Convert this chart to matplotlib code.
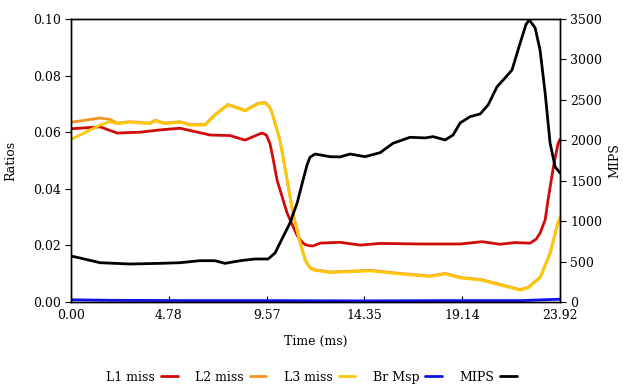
import matplotlib.pyplot as plt

plt.rcParams['font.family'] = ['DejaVu Serif']

# time (ms) and values
t_l1 = [0.0, 1.42, 2.25, 3.38, 4.35, 5.33, 6.80, 7.78, 8.51, 9.10, 9.34, 9.55, 9.73, 9.90,
        10.08, 10.57, 11.06, 11.30, 11.45, 11.65, 11.84, 12.18, 13.16, 14.14, 15.12, 17.07,
        19.03, 20.11, 20.99, 21.72, 22.45, 22.75, 22.94, 23.19, 23.33, 23.60, 23.82, 23.92]
l1_miss = [0.0612, 0.0619, 0.0597, 0.0600, 0.0608, 0.0614, 0.0590, 0.0588, 0.0572, 0.0590,
           0.0597, 0.0590, 0.0560, 0.0500, 0.0430, 0.0314, 0.0235, 0.0212, 0.0203, 0.0199,
           0.0198, 0.0208, 0.0211, 0.0201, 0.0207, 0.0205, 0.0205, 0.0213, 0.0204, 0.0210,
           0.0208, 0.0222, 0.0243, 0.0290, 0.0360, 0.0480, 0.0560, 0.0575]

t_l2 = [0.0, 1.42, 1.91, 2.25, 2.89, 3.86, 4.11, 4.60, 5.33, 5.82, 6.56, 7.04, 7.68, 8.51,
        9.15, 9.49, 9.70, 9.83, 10.22, 10.57, 10.86, 11.20, 11.45, 11.65, 11.84, 12.67,
        14.63, 16.09, 17.56, 18.30, 19.03, 20.01, 20.99, 21.97, 22.36, 22.94, 23.43, 23.82,
        23.92]
l2_miss = [0.0635, 0.0650, 0.0645, 0.0632, 0.0637, 0.0632, 0.0642, 0.0632, 0.0637, 0.0627,
           0.0627, 0.0662, 0.0698, 0.0677, 0.0702, 0.0705, 0.0690, 0.0670, 0.0572, 0.0432,
           0.0312, 0.0212, 0.0150, 0.0125, 0.0115, 0.0106, 0.0112, 0.0101, 0.0092, 0.0101,
           0.0087, 0.0080, 0.0062, 0.0044, 0.0052, 0.0087, 0.0172, 0.0282, 0.0292]

t_l3 = [0.0, 0.5, 1.0, 1.42, 1.91, 2.25, 2.89, 3.86, 4.11, 4.60, 5.33, 5.82, 6.56, 7.04,
        7.68, 8.51, 9.15, 9.49, 9.70, 9.83, 10.22, 10.57, 10.86, 11.20, 11.45, 11.65,
        11.84, 12.67, 14.63, 16.09, 17.56, 18.30, 19.03, 20.01, 20.99, 21.97, 22.36,
        22.94, 23.43, 23.82, 23.92]
l3_miss = [0.0575, 0.0592, 0.0610, 0.0625, 0.0637, 0.0630, 0.0635, 0.0630, 0.0640, 0.0630,
           0.0635, 0.0625, 0.0625, 0.0660, 0.0696, 0.0675, 0.0700, 0.0703, 0.0688, 0.0668,
           0.0570, 0.0430, 0.0310, 0.0210, 0.0148, 0.0123, 0.0113, 0.0104, 0.0110, 0.0099,
           0.0090, 0.0099, 0.0085, 0.0078, 0.0060, 0.0042, 0.0050, 0.0085, 0.0170, 0.0280,
           0.0300]

t_br = [0.0, 2.0, 6.0, 10.0, 14.0, 18.0, 22.0, 23.92]
br_msp = [0.0008, 0.0006, 0.0005, 0.0005, 0.0004, 0.0005, 0.0005, 0.0010]

t_mips = [0.0, 0.44, 1.42, 2.89, 4.35, 5.33, 6.31, 7.04, 7.53, 8.27, 9.00, 9.64, 9.98,
          10.22, 10.71, 11.06, 11.35, 11.55, 11.69, 11.94, 12.67, 13.16, 13.65, 14.38,
          15.12, 15.75, 16.58, 17.32, 17.71, 18.30, 18.69, 19.03, 19.52, 20.01, 20.40,
          20.84, 21.23, 21.57, 21.97, 22.25, 22.41, 22.70, 22.94, 23.19, 23.43, 23.68,
          23.92]
mips = [569, 544, 486, 470, 478, 486, 511, 511, 478, 511, 532, 532, 606, 730, 977, 1225,
        1510, 1700, 1790, 1830, 1797, 1794, 1830, 1797, 1847, 1963, 2037, 2029, 2045, 2004,
        2066, 2214, 2292, 2325, 2437, 2663, 2771, 2870, 3204, 3430, 3490, 3390, 3117, 2585,
        1967, 1670, 1596]

xticks = [0.00, 4.78, 9.57, 14.35, 19.14, 23.92]

fig = plt.figure(figsize=(6.23, 3.87), dpi=100)
ax = fig.add_axes([0.114, 0.2196, 0.785, 0.7314])
ax2 = ax.twinx()

style = dict(lw=2.0, solid_joinstyle='round', solid_capstyle='round')
h1, = ax.plot(t_l1, l1_miss, color='#d10a0a', label='L1 miss', **style)
h2, = ax.plot(t_l2, l2_miss, color='#f7941d', label='L2 miss', **style)
h3, = ax.plot(t_l3, l3_miss, color='#fcc80a', label='L3 miss', **style)
h4, = ax.plot(t_br, br_msp, color='#1010e8', label='Br Msp', **style)
h5, = ax2.plot(t_mips, mips, color='black', label='MIPS', **style)

ax.set_xlim(0, 23.92)
ax.set_ylim(0, 0.1)
ax2.set_ylim(0, 3500)
ax.set_xticks(xticks)
ax.set_xticklabels(['%.2f' % v for v in xticks])
ax.set_yticks([0, 0.02, 0.04, 0.06, 0.08, 0.10])
ax.set_yticklabels(['0.00', '0.02', '0.04', '0.06', '0.08', '0.10'])
ax2.set_yticks(range(0, 3501, 500))

ax.tick_params(axis='x', direction='in', length=4, labelsize=9, pad=5)
ax.tick_params(axis='y', direction='out', length=4, labelsize=9)
ax2.tick_params(axis='y', direction='out', length=4, labelsize=9)

ax.set_xlabel('Time (ms)', fontsize=9, labelpad=9)
ax.set_ylabel('Ratios', fontsize=9, labelpad=11)
ax2.set_ylabel('MIPS', fontsize=9, labelpad=4)

for a in (ax, ax2):
    for s in a.spines.values():
        s.set_linewidth(1.0)

fig.legend(handles=[h1, h2, h3, h4, h5], loc='center', bbox_to_anchor=(0.5, 0.025),
           ncol=5, frameon=False, markerfirst=False, fontsize=9, handlelength=1.3,
           handletextpad=0.5, columnspacing=1.4)

fig.savefig('out.png', dpi=100)
